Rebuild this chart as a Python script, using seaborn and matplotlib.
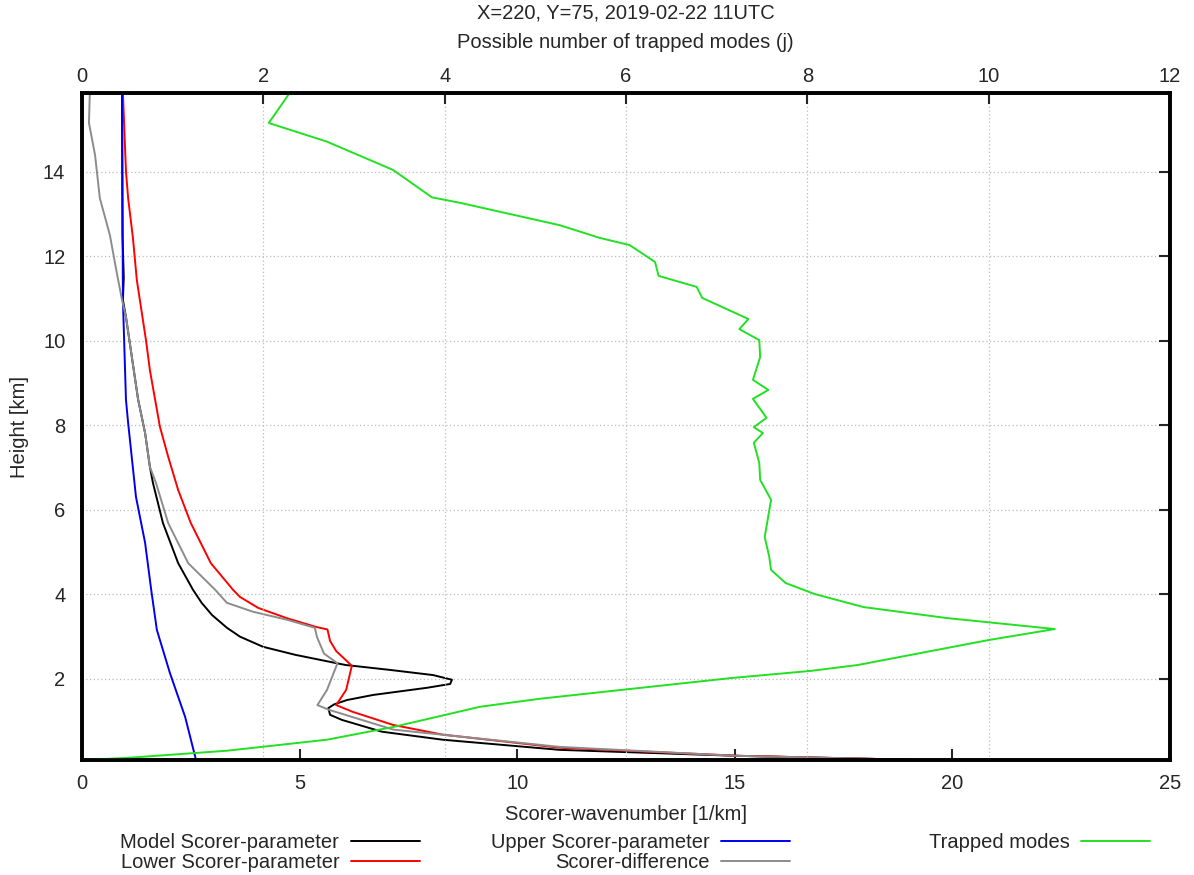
import numpy as np
import pandas as pd
import matplotlib
matplotlib.use("Agg")
import matplotlib.pyplot as plt
import seaborn as sns

# Scorer parameters (bottom axis, 1/km) against height (km)
model_h = [15.87, 12.5, 11.5, 10.97, 10.57, 8.61, 7.82, 7.02, 6.64, 5.69, 4.74, 4.11,
           3.80, 3.51, 3.21, 3.00, 2.76, 2.57, 2.33, 2.21, 2.09, 1.98, 1.88, 1.79,
           1.62, 1.50, 1.40, 1.31, 1.15, 1.03, 0.75, 0.56, 0.32, 0.18, 0.08]
model_k = [0.92, 0.93, 0.96, 0.94, 1.01, 1.29, 1.45, 1.56, 1.63, 1.86, 2.21, 2.55,
           2.75, 2.99, 3.33, 3.63, 4.16, 4.90, 6.05, 7.10, 8.07, 8.50, 8.46, 7.93,
           6.69, 6.09, 5.80, 5.66, 5.70, 5.97, 6.89, 8.29, 10.98, 15.0, 19.3]

lower_h = [15.87, 14.02, 13.38, 12.44, 11.44, 10.02, 9.31, 8.61, 7.97, 7.26, 6.47, 5.69,
           4.74, 4.11, 3.94, 3.68, 3.44, 3.23, 3.17, 2.90, 2.66, 2.31, 1.74, 1.38,
           1.22, 0.91, 0.68, 0.37, 0.18, 0.08]
lower_k = [0.94, 1.01, 1.06, 1.17, 1.26, 1.47, 1.56, 1.68, 1.79, 1.98, 2.21, 2.50,
           2.96, 3.47, 3.63, 4.05, 4.70, 5.38, 5.64, 5.70, 5.84, 6.20, 6.07, 5.84,
           6.22, 7.15, 8.29, 10.98, 15.1, 19.3]

upper_h = [15.87, 10.97, 8.61, 8.06, 6.31, 5.22, 4.11, 3.16, 2.14, 1.10, 0.08]
upper_k = [0.92, 0.94, 1.01, 1.06, 1.24, 1.45, 1.59, 1.72, 2.02, 2.37, 2.62]

diff_h = [15.87, 15.16, 14.40, 13.38, 12.51, 11.61, 10.97, 10.57, 8.61, 7.82, 7.02, 6.64,
          5.69, 4.74, 4.11, 3.80, 3.59, 3.40, 3.21, 2.99, 2.60, 2.37, 1.74, 1.38,
          1.27, 0.80, 0.39, 0.18, 0.08]
diff_k = [0.18, 0.16, 0.30, 0.41, 0.64, 0.80, 0.92, 1.01, 1.29, 1.45, 1.56, 1.70,
          1.98, 2.44, 3.06, 3.33, 3.93, 4.71, 5.35, 5.40, 5.56, 5.87, 5.63, 5.41,
          5.67, 7.15, 10.98, 15.0, 19.3]

# Trapped modes (top axis, j)
modes_h = [15.87, 15.16, 14.72, 14.05, 13.40, 13.27, 12.74, 12.44, 12.27, 11.87, 11.54,
           11.28, 11.02, 10.52, 10.28, 10.02, 9.62, 9.08, 8.84, 8.63, 8.18, 7.96, 7.82,
           7.59, 7.11, 6.71, 6.24, 5.36, 4.89, 4.58, 4.27, 4.01, 3.70, 3.44, 3.18,
           2.92, 2.33, 2.19, 2.02, 1.53, 1.34, 0.86, 0.56, 0.30, 0.13, 0.08]
modes_j = [2.29, 2.06, 2.70, 3.43, 3.86, 4.17, 5.27, 5.71, 6.04, 6.32, 6.36,
           6.78, 6.84, 7.35, 7.25, 7.47, 7.48, 7.40, 7.57, 7.40, 7.55, 7.41, 7.51,
           7.41, 7.47, 7.48, 7.60, 7.53, 7.58, 7.60, 7.76, 8.08, 8.62, 9.54, 10.73,
           10.00, 8.56, 8.04, 7.16, 5.05, 4.39, 3.43, 2.70, 1.60, 0.50, 0.0]

sns.set_style("white")
plt.rcParams['font.family'] = ['Liberation Sans', 'DejaVu Sans']
plt.rcParams['font.size'] = 14.5

fig = plt.figure(figsize=(11.94, 8.75), dpi=100)
ax = fig.add_axes([82 / 1194, 1 - 760 / 875, (1170 - 82) / 1194, (760 - 93) / 875])
ax2 = ax.twiny()

lw = 1.4
sns.lineplot(x=model_k, y=model_h, sort=False, estimator=None, color='black', lw=lw,
             label='Model Scorer-parameter', ax=ax, legend=False)
sns.lineplot(x=lower_k, y=lower_h, sort=False, estimator=None, color='#ff0000', lw=lw,
             label='Lower Scorer-parameter', ax=ax, legend=False)
sns.lineplot(x=upper_k, y=upper_h, sort=False, estimator=None, color='#0000ee', lw=lw,
             label='Upper Scorer-parameter', ax=ax, legend=False)
sns.lineplot(x=diff_k, y=diff_h, sort=False, estimator=None, color='#8c8c8c', lw=lw,
             label='Scorer-difference', ax=ax, legend=False)
sns.lineplot(x=modes_j, y=modes_h, sort=False, estimator=None, color='#22e022', lw=lw,
             label='Trapped modes', ax=ax2, legend=False)

ax.set_xlim(0, 25)
ax.set_ylim(0.08, 15.87)
ax2.set_xlim(0, 12)
ax.set_xticks([0, 5, 10, 15, 20, 25])
ax.set_yticks([2, 4, 6, 8, 10, 12, 14])
ax2.set_xticks([0, 2, 4, 6, 8, 10, 12])

grid_kw = dict(color='#bcbcbc', linestyle=(0, (1, 2)), linewidth=0.9)
ax.grid(False)
ax.yaxis.grid(True, **grid_kw)
ax2.xaxis.grid(True, **grid_kw)
ax2.yaxis.grid(False)
ax.set_axisbelow(True)

for a in (ax, ax2):
    for s in a.spines.values():
        s.set_linewidth(2.6)
        s.set_color('black')

ax.tick_params(axis='x', direction='in', length=8, width=1.5, pad=10, top=False)
ax.tick_params(axis='y', direction='in', length=8, width=1.5, pad=12, right=True)
ax2.tick_params(axis='x', direction='in', length=8, width=1.5, pad=5)

ax.set_xlabel('Scorer-wavenumber [1/km]', labelpad=9)
ax.set_ylabel('Height [km]', labelpad=10)
ax2.set_xlabel('')
fig.text(0.524, 1 - 13 / 875, 'X=220, Y=75, 2019-02-22 11UTC', ha='center', va='center',
         fontsize=14.5)
fig.text(0.524, 1 - 42 / 875, 'Possible number of trapped modes (j)', ha='center',
         va='center', fontsize=14.5)

# legend: three right-aligned columns like the gnuplot key
h1, l1 = ax.get_legend_handles_labels()
h2, l2 = ax2.get_legend_handles_labels()
leg_kw = dict(frameon=False, markerfirst=False, handlelength=3.4, handletextpad=0.6,
              labelspacing=0.05, borderpad=0, loc='upper right', fontsize=14.5)
fig.legend([h1[0], h1[1]], [l1[0], l1[1]], bbox_to_anchor=(430 / 1194, 1 - 823 / 875), **leg_kw)
fig.legend([h1[2], h1[3]], [l1[2], l1[3]], bbox_to_anchor=(800 / 1194, 1 - 823 / 875), **leg_kw)
fig.legend(h2, l2, bbox_to_anchor=(1160 / 1194, 1 - 823 / 875), **leg_kw)

fig.savefig('out.png', dpi=100)
